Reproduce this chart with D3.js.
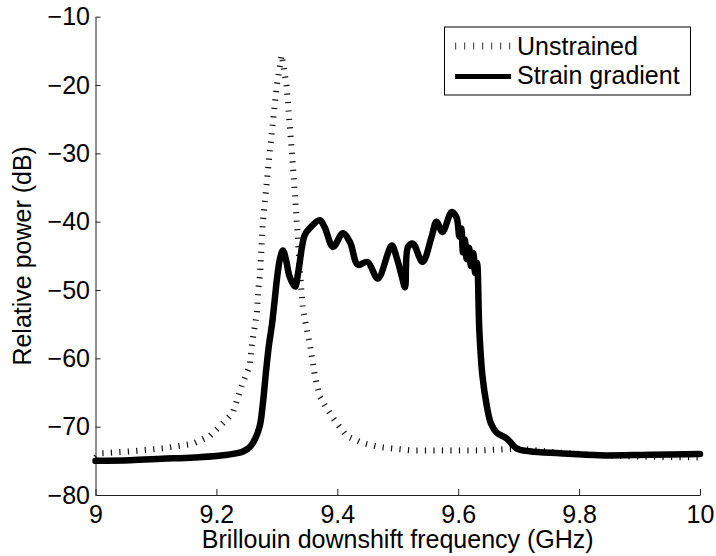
<!DOCTYPE html>
<html>
<head>
<meta charset="utf-8">
<script src="https://cdn.jsdelivr.net/npm/d3@7"></script>
<style>
  body { margin: 0; background: #fff; }
  svg { display: block; font-family: "Liberation Sans", Arial, sans-serif; }
</style>
</head>
<body>
<svg width="716" height="556"></svg>
<script>
// strain gradient trace (GHz, dB)
const strainFreq = [9.000, 9.057, 9.110, 9.164, 9.219, 9.245, 9.257, 9.265, 9.272, 9.277,
  9.282, 9.287, 9.292, 9.297, 9.300, 9.305, 9.310, 9.315, 9.321, 9.330, 9.336,
  9.346, 9.355, 9.371, 9.379, 9.393, 9.409, 9.421, 9.434, 9.450, 9.467,
  9.490, 9.498, 9.507, 9.512, 9.517, 9.525, 9.541, 9.556, 9.564, 9.574,
  9.589, 9.597, 9.602, 9.605, 9.608, 9.611, 9.614, 9.618, 9.621, 9.625,
  9.628, 9.631, 9.635, 9.640, 9.647, 9.654, 9.664, 9.680, 9.697, 9.718,
  9.768, 9.834, 9.917, 10.0];
const strainPower = [-75.0, -74.9, -74.7, -74.5, -74.1, -73.6, -72.8, -71.6, -69.8, -66.5,
  -62.0, -58.0, -55.0, -51.0, -48.5, -45.5, -44.2, -45.5, -48.0, -49.5, -47.0,
  -42.0, -40.9, -39.8, -40.8, -43.7, -41.7, -43.0, -46.3, -45.9, -48.3,
  -43.5, -45.2, -48.1, -49.6, -43.7, -43.2, -45.9, -42.2, -40.0, -41.5,
  -38.6, -39.3, -42.2, -41.0, -44.5, -42.6, -45.5, -43.8, -46.5, -44.6,
  -47.5, -46.0, -56.0, -62.5, -66.8, -69.5, -70.9, -71.7, -73.2, -73.6,
  -73.9, -74.2, -74.1, -74.0];

// unstrained trace (GHz, dB)
const unstrainedFreq = [9.000, 9.007, 9.062, 9.118, 9.161, 9.189, 9.211, 9.227, 9.242, 9.255,
  9.259, 9.267, 9.269, 9.272, 9.277, 9.288, 9.300, 9.308, 9.316, 9.325,
  9.333, 9.338, 9.343, 9.355, 9.363, 9.371, 9.383, 9.399, 9.416, 9.442,
  9.470, 9.525, 9.581, 9.636, 9.697, 9.768, 9.834, 9.917, 10.0];
const unstrainedPower = [-74.5, -73.9, -73.6, -73.1, -72.5, -71.4, -69.5, -68.0, -64.0, -61.1,
  -57.8, -53.4, -50.0, -48.0, -40.0, -30.0, -20.0, -15.6, -20.0, -30.0,
  -40.0, -47.0, -52.8, -58.2, -62.6, -65.6, -67.4, -69.5, -71.4, -72.4,
  -73.0, -73.5, -73.5, -73.5, -73.2, -73.8, -74.2, -74.4, -74.5];

const xTicks = [9, 9.2, 9.4, 9.6, 9.8, 10];
const yTicks = [-80, -70, -60, -50, -40, -30, -20, -10];
const legendLabels = ["Unstrained", "Strain gradient"];

function draw() {
  const svg = d3.select("svg");
  const left = 95.5, right = 700, top = 16.7, bottom = 495;

  const x = d3.scaleLinear().domain([9, 10]).range([left, right]);
  const y = d3.scaleLinear().domain([-80, -10]).range([bottom, top]);

  const xAxis = svg.append("g")
    .attr("transform", `translate(0,${bottom})`)
    .call(d3.axisBottom(x).tickValues(xTicks).tickFormat(d3.format("")).tickSizeInner(-6).tickSizeOuter(0).tickPadding(10));
  const yAxis = svg.append("g")
    .attr("transform", `translate(${left},0)`)
    .call(d3.axisLeft(y).tickValues(yTicks).tickSizeInner(-5).tickSizeOuter(0).tickPadding(5.5));

  [xAxis, yAxis].forEach(a => {
    a.attr("font-size", 25).attr("font-family", "Liberation Sans, Arial, sans-serif");
    a.selectAll("text").attr("fill", "#000");
    a.selectAll("line, path").attr("stroke", "#222");
  });

  svg.append("text")
    .attr("x", (left + right) / 2)
    .attr("y", 548)
    .attr("text-anchor", "middle")
    .attr("font-size", 25)
    .text("Brillouin downshift frequency (GHz)");

  svg.append("text")
    .attr("transform", `translate(31,${(top + bottom) / 2}) rotate(-90)`)
    .attr("text-anchor", "middle")
    .attr("font-size", 25)
    .text("Relative power (dB)");

  const line = d3.line().x(d => x(d[0])).y(d => y(d[1]));
  const unstrained = unstrainedFreq.map((f, i) => [f, unstrainedPower[i]]);
  const strain = strainFreq.map((f, i) => [f, strainPower[i]]);

  svg.append("path")
    .attr("d", line(unstrained))
    .attr("fill", "none")
    .attr("stroke", "#111")
    .attr("stroke-width", 6)
    .attr("stroke-dasharray", "1.2,7.3");

  svg.append("path")
    .attr("d", line.curve(d3.curveCatmullRom.alpha(0.5))(strain))
    .attr("fill", "none")
    .attr("stroke", "#000")
    .attr("stroke-width", 6.5)
    .attr("stroke-linejoin", "round")
    .attr("stroke-linecap", "round");

  // legend
  const lg = svg.append("g");
  lg.append("rect")
    .attr("x", 444.5).attr("y", 27)
    .attr("width", 246).attr("height", 68)
    .attr("fill", "#fff").attr("stroke", "#000").attr("stroke-width", 1);

  lg.append("line")
    .attr("x1", 455).attr("x2", 511).attr("y1", 46).attr("y2", 46)
    .attr("stroke", "#555").attr("stroke-width", 7)
    .attr("stroke-dasharray", "1.2,7.8");
  lg.append("line")
    .attr("x1", 455).attr("x2", 511).attr("y1", 76.5).attr("y2", 76.5)
    .attr("stroke", "#000").attr("stroke-width", 5);

  lg.selectAll("text.lbl")
    .data(legendLabels)
    .join("text")
    .attr("class", "lbl")
    .attr("x", 517)
    .attr("y", (d, i) => 55 + i * 28.5)
    .attr("font-size", 25)
    .text(d => d);
}

window.onload = draw;
</script>
</body>
</html>
